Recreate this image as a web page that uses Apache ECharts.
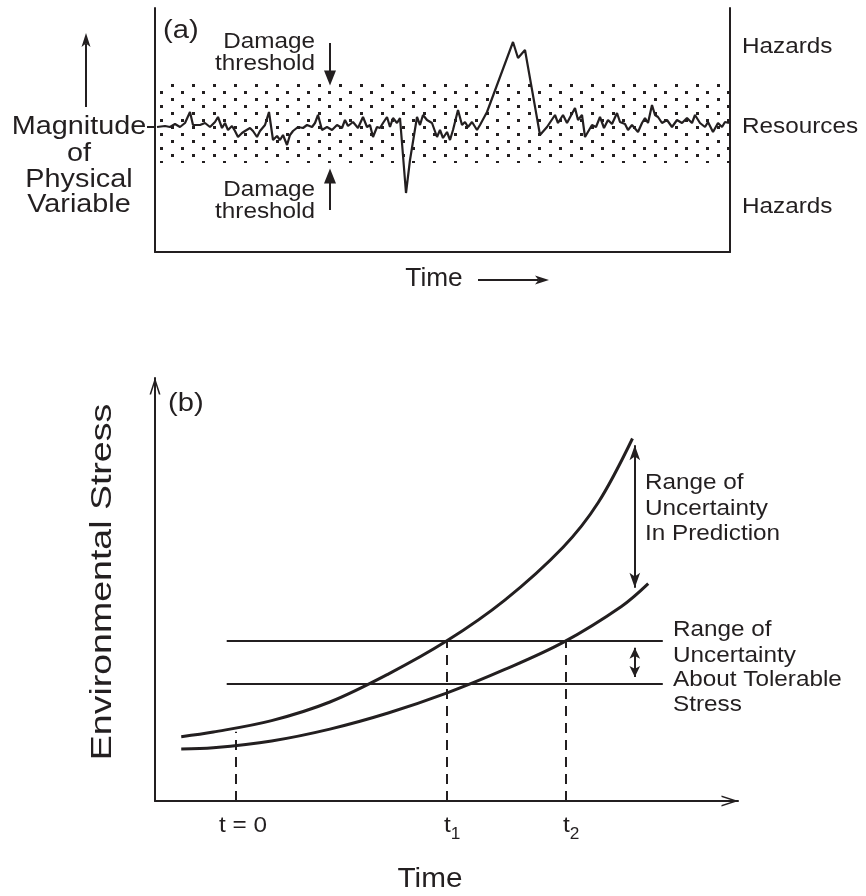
<!DOCTYPE html>
<html>
<head>
<meta charset="utf-8">
<script src="https://cdn.jsdelivr.net/npm/echarts@6/dist/echarts.min.js"></script>
<style>
html,body{margin:0;padding:0;background:#fff}
#main{width:866px;height:896px}
</style>
</head>
<body>
<div id="main"></div>
<script>
var FONT = '"Liberation Sans", Arial, Helvetica, sans-serif';
var INK = '#231f20';

// ---- panel (a): physical variable vs time, resources level = 0 ----
var noiseA = [[2,0],[10,1],[15,0],[20,3],[25,0],[30,4],[35,15],[38,2],[45,2],[50,4],[55,0],[60,5],[63,10],[67,-1],[70,4],[73,-3],[77,1],[80,-4],[83,-10],[87,-6],[90,-4],[95,-1],[98,-4],[102,-10],[105,-4],[110,2],[114,15],[118,-13],[122,-9],[125,-13],[128,-8],[132,-18],[135,-8],[138,-4],[143,0],[148,-1],[152,2],[157,0],[160,4],[163,12],[167,-3],[172,0],[177,-3],[182,2],[187,-1],[190,7],[193,1],[198,5],[203,-1],[208,10],[212,0],[215,2],[218,-10],[222,0],[225,-1],[228,4],[232,10],[235,0],[238,9],[242,4],[245,9],[251,-66],[255,-33],[262,10],[265,2],[268,12],[272,7],[277,4],[282,-10],[285,-3],[288,-11],[292,-5],[295,-13],[298,-3],[303,17],[307,2],[310,5],[313,0],[317,5],[322,-3],[325,2],[332,15],[358,85],[363,69],[370,77],[385,-8],[392,0],[400,12],[403,4],[408,12],[412,4],[420,19],[423,7],[427,12],[430,-10],[437,2],[441,0],[445,10],[449,-1],[453,7],[457,3],[462,14],[465,5],[470,3],[473,-3],[477,2],[483,-5],[487,4],[490,9],[493,4],[497,22],[500,12],[503,10],[507,4],[512,7],[517,0],[522,7],[527,4],[532,9],[537,4],[540,12],[545,4],[550,0],[553,5],[558,-5],[563,4],[567,0],[570,5],[574,4]];
var bandA = [43, -36];      // damage thresholds = edges of the stippled band
var rangeA = [-125, 119];
var levelLabelsA = ['Hazards', 'Resources', 'Hazards'];

// ---- panel (b): environmental stress vs time ----
var upperB = [[4.5,15.2],[10,16.3],[20,19.0],[30,23.4],[40,30.0],[50,37.8],[60,47.5],[70,60.0],[76,70.5],[81.9,85.7]];
var lowerB = [[4.5,12.3],[10,12.6],[20,14.2],[30,17.0],[40,20.8],[50,25.5],[60,31.1],[70,37.5],[80,46.0],[84.6,51.4]];
var tolerB = [37.8, 27.7];       // tolerable stress, upper / lower
var tolerSpanB = [12.3, 87.1];
var tMarksB = [13.9, 50.0, 70.4];
var tTopsB = [16.4, 37.8, 37.8];
var tLabelsB = [['t = 0', ''], ['t', '1'], ['t', '2']];

// stipple pattern for the resource band
var pat = document.createElement('canvas');
pat.width = 21; pat.height = 14;
var pc = pat.getContext('2d');
pc.fillStyle = INK;
pc.fillRect(3, 0, 3, 3);
pc.fillRect(13, 7, 3, 3);

var CHEV = 'path://M0,17 L5.5,0 L11,17 L9.4,17 L5.5,4.8 L1.6,17 Z';

function arrowLine(p1, p2, s1, s2, size) {
  return [{coord: p1, symbol: s1, symbolSize: size}, {coord: p2, symbol: s2, symbolSize: size}];
}
var mlBase = {
  silent: true,
  animation: false,
  label: {show: false},
  emphasis: {disabled: true},
  lineStyle: {color: INK, width: 2, type: 'solid'},
  itemStyle: {color: INK}
};

function txt(x, y, s, o) {
  o = o || {};
  return {
    type: 'text', x: x, y: y, silent: true,
    scaleX: o.sx || 1.08, rotation: o.rot || 0,
    style: {
      text: s, fill: INK, fontFamily: FONT, fontSize: o.fs || 22.5,
      align: o.align || 'left', textAlign: o.align || 'left',
      verticalAlign: 'middle', textVerticalAlign: 'middle'
    }
  };
}
// plain arrow drawn as a line plus a narrow head
function arrow(x1, y1, x2, y2) {
  var a = Math.atan2(y2 - y1, x2 - x1), L = 14, W = 4.5;
  var bx = x2 - L * Math.cos(a), by = y2 - L * Math.sin(a);
  var nx = -Math.sin(a) * W, ny = Math.cos(a) * W;
  var mx = x2 - (L - 3.5) * Math.cos(a), my = y2 - (L - 3.5) * Math.sin(a);
  return [
    {type: 'line', silent: true, shape: {x1: x1, y1: y1, x2: mx, y2: my}, style: {stroke: INK, lineWidth: 2}},
    {type: 'polygon', silent: true, shape: {points: [[x2, y2], [bx + nx, by + ny], [mx, my], [bx - nx, by - ny]]}, style: {fill: INK}}
  ];
}

var chart = echarts.init(document.getElementById('main'));
var hideAx = {axisLabel: {show: false}, axisTick: {show: false}, splitLine: {show: false}};

var option = {
  animation: false,
  backgroundColor: '#fff',
  grid: [
    {left: 155, top: 8, width: 575, height: 244, outerBoundsMode: 'none'},
    {left: 155, top: 378, width: 583, height: 423, outerBoundsMode: 'none'}
  ],
  xAxis: [
    Object.assign({gridIndex: 0, type: 'value', min: 0, max: 575,
      axisLine: {show: true, onZero: false, lineStyle: {color: INK, width: 2}}}, hideAx),
    Object.assign({gridIndex: 1, type: 'value', min: 0, max: 100,
      axisLine: {show: true, onZero: false, symbol: ['none', CHEV], symbolSize: [11, 17], symbolOffset: [0, -8],
        lineStyle: {color: INK, width: 2}}}, hideAx)
  ],
  yAxis: [
    {gridIndex: 0, type: 'value', min: rangeA[0], max: rangeA[1],
      axisLine: {show: true, onZero: false, lineStyle: {color: INK, width: 2}},
      axisTick: {show: true, customValues: [0], length: 8, lineStyle: {color: INK, width: 2}},
      axisLabel: {show: false}, splitLine: {show: false}},
    Object.assign({gridIndex: 0, type: 'value', position: 'right', min: rangeA[0], max: rangeA[1],
      axisLine: {show: true, onZero: false, lineStyle: {color: INK, width: 2}}}, hideAx),
    Object.assign({gridIndex: 1, type: 'value', min: 0, max: 100,
      axisLine: {show: true, onZero: false, symbol: ['none', CHEV], symbolSize: [11, 17], symbolOffset: [0, -8],
        lineStyle: {color: INK, width: 2}}}, hideAx)
  ],
  series: [
    {
      type: 'line', xAxisIndex: 0, yAxisIndex: 0, data: noiseA, symbol: 'none', clip: false,
      lineStyle: {color: INK, width: 2.2}, z: 5,
      markArea: {
        silent: true,
        label: {show: false},
        itemStyle: {color: {image: pat, repeat: 'repeat'}},
        data: [[{coord: [0, bandA[0]]}, {coord: [575, bandA[1]]}]]
      },
      markLine: Object.assign({}, mlBase, {
        data: [
          arrowLine([175, 84], [175, 49], 'none', 'triangle', [12, 15]),
          arrowLine([175, -83], [175, -49], 'none', 'triangle', [12, 15])
        ]
      })
    },
    {
      type: 'line', xAxisIndex: 1, yAxisIndex: 2, data: upperB, symbol: 'none', smooth: 0.35,
      lineStyle: {color: INK, width: 3}
    },
    {
      type: 'line', xAxisIndex: 1, yAxisIndex: 2, data: lowerB, symbol: 'none', smooth: 0.35,
      lineStyle: {color: INK, width: 3},
      markLine: Object.assign({}, mlBase, {
        data: [
          [{coord: [tolerSpanB[0], tolerB[0]], symbol: 'none'}, {coord: [tolerSpanB[1], tolerB[0]], symbol: 'none'}],
          [{coord: [tolerSpanB[0], tolerB[1]], symbol: 'none'}, {coord: [tolerSpanB[1], tolerB[1]], symbol: 'none'}],
          arrowLine([82.3, 84.1], [82.3, 50.4], 'arrow', 'arrow', [8, 15]),
          arrowLine([82.3, 36.2], [82.3, 29.3], 'arrow', 'arrow', [8, 11])
        ]
      })
    },
    {
      type: 'line', xAxisIndex: 1, yAxisIndex: 2, data: [], symbol: 'none',
      markLine: Object.assign({}, mlBase, {
        lineStyle: {color: INK, width: 2, type: [10, 7]},
        data: tMarksB.map(function (t, i) {
          return [{coord: [t, 0], symbol: 'none'}, {coord: [t, tTopsB[i]], symbol: 'none'}];
        })
      })
    }
  ]
};
chart.setOption(option);

var big = {fs: 25.5, sx: 1.13, align: 'center'};
var g = [
  txt(163, 31, '(a)', {fs: 26, sx: 1.12}),
  txt(315, 42, 'Damage', {align: 'right'}),
  txt(315, 64, 'threshold', {align: 'right'}),
  txt(315, 190, 'Damage', {align: 'right'}),
  txt(315, 212, 'threshold', {align: 'right'}),
  txt(79, 127, 'Magnitude', big),
  txt(79, 154, 'of', big),
  txt(79, 180, 'Physical', big),
  txt(79, 205, 'Variable', big),
  txt(434, 279, 'Time', {fs: 25, sx: 1.05, align: 'center'}),
  txt(168, 404, '(b)', {fs: 26, sx: 1.12}),
  txt(103, 582, 'Environmental Stress', {fs: 30, sx: 1.25, rot: Math.PI / 2, align: 'center'}),
  txt(645, 483, 'Range of'),
  txt(645, 509, 'Uncertainty'),
  txt(645, 534, 'In Prediction'),
  txt(673, 630, 'Range of'),
  txt(673, 656, 'Uncertainty'),
  txt(673, 680, 'About Tolerable'),
  txt(673, 705, 'Stress'),
  txt(430, 880, 'Time', {fs: 27, sx: 1.1, align: 'center'})
];
g = g.concat(arrow(86, 107, 86, 33), arrow(478, 280, 549, 280));
[47, 127, 207].forEach(function (y, i) {
  g.push(txt(742, y, levelLabelsA[i]));
});
tMarksB.forEach(function (t, i) {
  var p = chart.convertToPixel({gridIndex: 1}, [t, 0]);
  var lb = tLabelsB[i];
  if (lb[1]) {
    g.push(txt(p[0] + 1, p[1] + 25, lb[0], {align: 'center'}));
    g.push(txt(p[0] + 9, p[1] + 34, lb[1], {fs: 16, align: 'center'}));
  } else {
    g.push(txt(p[0] + 7, p[1] + 25, lb[0], {align: 'center'}));
  }
});
chart.setOption({graphic: g});
</script>
</body>
</html>
